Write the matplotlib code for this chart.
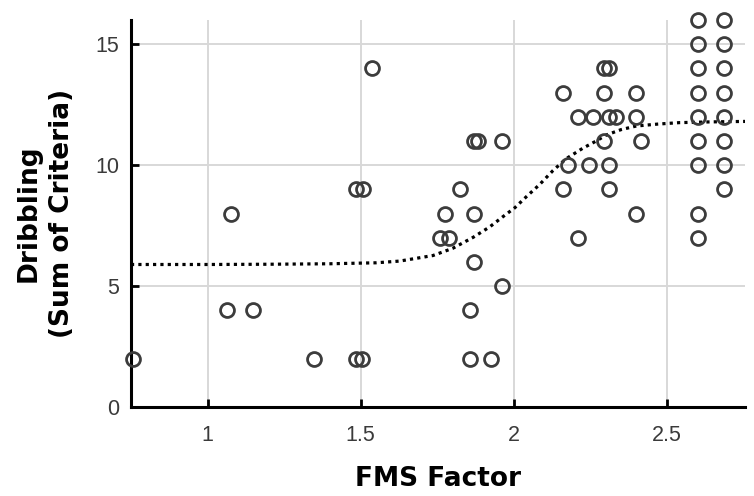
import matplotlib
matplotlib.use("Agg")
import matplotlib.pyplot as plt

# Scatter data: FMS factor (x) vs Dribbling sum of criteria (y)
fms_x = [0.755, 1.078, 1.062, 1.147, 1.348, 1.537, 1.486, 1.506, 1.486, 1.504,
         1.869, 1.882, 1.962, 1.823, 1.774, 1.870, 1.760, 1.788, 1.869, 1.962,
         1.856, 1.856, 1.924,
         2.294, 2.310, 2.160, 2.294, 2.400, 2.211, 2.260, 2.310, 2.334, 2.400,
         2.294, 2.416, 2.177, 2.245, 2.310, 2.160, 2.310, 2.400, 2.211,
         2.603, 2.603, 2.603, 2.603, 2.603, 2.603, 2.603, 2.603, 2.603,
         2.685, 2.685, 2.685, 2.685, 2.685, 2.685, 2.685, 2.685]
drib_y = [2, 8, 4, 4, 2, 14, 9, 9, 2, 2,
          11, 11, 11, 9, 8, 8, 7, 7, 6, 5,
          4, 2, 2,
          14, 14, 13, 13, 13, 12, 12, 12, 12, 12,
          11, 11, 10, 10, 10, 9, 9, 8, 7,
          16, 15, 14, 13, 12, 11, 10, 8, 7,
          16, 15, 14, 13, 12, 11, 10, 9]

# Fitted curve
curve_x = [0.75, 1.0, 1.2, 1.4, 1.55, 1.627, 1.736, 1.801, 1.867, 1.921, 1.964,
           2.003, 2.041, 2.084, 2.128, 2.171, 2.225, 2.269, 2.302, 2.35, 2.40,
           2.47, 2.541, 2.64, 2.755]
curve_y = [5.90, 5.90, 5.91, 5.93, 5.97, 6.04, 6.27, 6.57, 7.02, 7.45, 7.87,
           8.24, 8.70, 9.20, 9.78, 10.27, 10.70, 11.00, 11.25, 11.47, 11.62,
           11.70, 11.76, 11.79, 11.81]

xticks = [1, 1.5, 2, 2.5]
xtick_labels = ["1", "1.5", "2", "2.5"]
yticks = [0, 5, 10, 15]
ytick_labels = ["0", "5", "10", "15"]

fig = plt.figure(figsize=(7.54, 4.96), dpi=100)
ax = fig.add_axes([0.1737, 0.1788, 0.9881 - 0.1737, 0.9597 - 0.1788])

ax.grid(True, color="#d8d8d8", linewidth=1.4, zorder=0)
ax.set_axisbelow(True)

ax.plot(curve_x, curve_y, color="black", linewidth=2.3,
        linestyle=(0, (1, 1.3)), zorder=2)
ax.plot(fms_x, drib_y, linestyle="none", marker="o", markersize=10,
        markerfacecolor="none", markeredgecolor="#3c3c3c", markeredgewidth=2.0,
        clip_on=False, zorder=3)

ax.set_xlim(0.75, 2.755)
ax.set_ylim(0, 16)
ax.set_xticks(xticks)
ax.set_xticklabels(xtick_labels)
ax.set_yticks(yticks)
ax.set_yticklabels(ytick_labels)

for s in ["top", "right"]:
    ax.spines[s].set_visible(False)
for s in ["left", "bottom"]:
    ax.spines[s].set_linewidth(2.2)
    ax.spines[s].set_color("black")

ax.tick_params(direction="in", length=6, width=2, color="black",
               labelsize=15.5, labelcolor="#3a3a3a")
ax.tick_params(axis="x", pad=13)
ax.tick_params(axis="y", pad=8.5)
for lab in ax.get_xticklabels() + ax.get_yticklabels():
    lab.set_family("Liberation Sans")

ax.set_xlabel("FMS Factor", fontsize=19, fontweight="bold",
              family="DejaVu Sans", labelpad=14)
ax.set_ylabel("Dribbling\n(Sum of Criteria)", fontsize=19, fontweight="bold",
              family="DejaVu Sans", linespacing=1.38)
ax.yaxis.set_label_coords(-0.091, 0.5)

fig.savefig("out.png", dpi=100)
